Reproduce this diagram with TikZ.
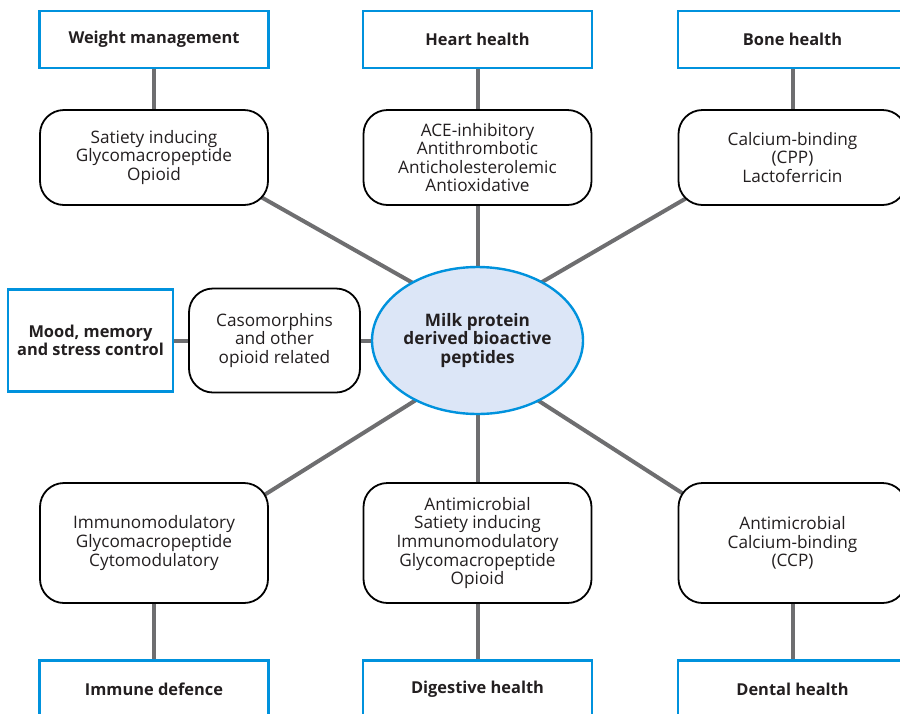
\documentclass[tikz,border=0pt]{standalone}
\usepackage{fontspec}
\setmainfont{Open Sans}
\usetikzlibrary{shapes.geometric,backgrounds}

\definecolor{frameblue}{RGB}{0,146,221}
\definecolor{hubfill}{RGB}{220,230,247}
\definecolor{linkgrey}{RGB}{110,110,112}
\definecolor{inkgrey}{RGB}{35,31,32}

\begin{document}
\begin{tikzpicture}[x=0.5pt,y=-0.5pt,text=inkgrey,
    font=\fontsize{8.6}{9.3}\selectfont,
    catbox/.style={draw=frameblue,line width=1.2pt,fill=white,align=center,inner sep=0pt,
        minimum width=114.5pt,minimum height=28.5pt,font=\fontsize{8.2}{9.3}\selectfont\bfseries},
    pepbox/.style={draw=black,line width=0.9pt,fill=white,rounded corners=12pt,align=center,
        inner sep=0pt,minimum width=114pt},
    link/.style={draw=linkgrey,line width=2pt}]
    \useasboundingbox (0,0) rectangle (900,713);
    \clip (0,0) rectangle (900,713);

    % health areas
    \node [catbox] (weight) at (154,39.5) {Weight management};
    \node [catbox] (heart) at (477.5,39.5) {Heart health};
    \node [catbox] (bone) at (792.5,39.5) {Bone health};
    \node [catbox,minimum width=82.5pt,minimum height=51pt] (mood) at (90.5,340.5) {Mood, memory\\and stress control};
    \node [catbox] (immune) at (154,689) {Immune defence};
    \node [catbox] (digestive) at (477.5,689) {Digestive health};
    \node [catbox] (dental) at (792.5,689) {Dental health};

    % peptide groups
    \node [pepbox,minimum height=47.5pt] (satiety) at (154,157.5) {Satiety inducing\\Glycomacropeptide\\Opioid};
    \node [pepbox,minimum height=47.5pt] (ace) at (477.5,157.5) {ACE-inhibitory\\Antithrombotic\\Anticholesterolemic\\Antioxidative};
    \node [pepbox,minimum height=47.5pt] (calcium) at (792.5,157.5) {Calcium-binding\\(CPP)\\Lactoferricin};
    \node [pepbox,minimum width=85.5pt,minimum height=52pt] (caso) at (274.5,340.5) {Casomorphins\\and other\\opioid related};
    \node [pepbox,minimum height=60pt] (immuno) at (154,543) {Immunomodulatory\\Glycomacropeptide\\Cytomodulatory};
    \node [pepbox,minimum height=60pt] (microb) at (477.5,543) {Antimicrobial\\Satiety inducing\\Immunomodulatory\\Glycomacropeptide\\Opioid};
    \node [pepbox,minimum height=60pt] (ccp) at (792.5,543) {Antimicrobial\\Calcium-binding\\(CCP)};

    \node [ellipse,draw=frameblue,line width=1.2pt,fill=hubfill,inner sep=0pt,align=center,
        minimum width=105.5pt,minimum height=73.5pt,font=\fontsize{8.6}{9.3}\selectfont\bfseries]
        (hub) at (477.5,340.5) {Milk protein\\derived bioactive\\peptides};

    \begin{scope}[on background layer]
        \draw [link] (weight) -- (satiety);
        \draw [link] (heart) -- (ace) -- (hub);
        \draw [link] (bone) -- (calcium);
        \draw [link] (mood) -- (caso) -- (hub);
        \draw [link] (immune) -- (immuno);
        \draw [link] (digestive) -- (microb) -- (hub);
        \draw [link] (dental) -- (ccp);
        \draw [link] ([yshift=10.5pt]hub.center) -- ([yshift=10.5pt]satiety.center);
        \draw [link] ([yshift=10.5pt]hub.center) -- ([yshift=10.5pt]calcium.center);
        \draw [link] ([yshift=-10.5pt]hub.center) -- ([yshift=-10.5pt]immuno.center);
        \draw [link] ([yshift=-10.5pt]hub.center) -- ([yshift=-10.5pt]ccp.center);
    \end{scope}
\end{tikzpicture}
\end{document}
